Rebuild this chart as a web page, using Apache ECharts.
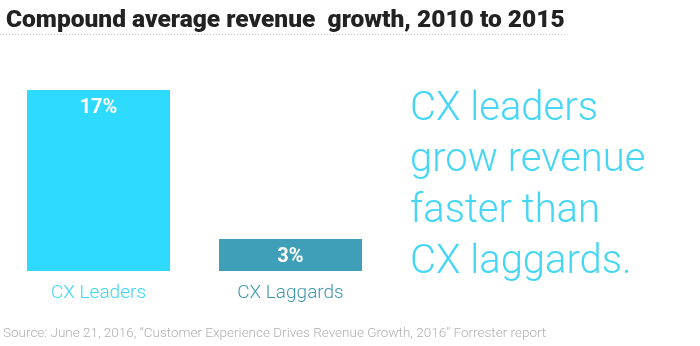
<!DOCTYPE html>
<html><head><meta charset="utf-8">
<script src="https://cdn.jsdelivr.net/npm/echarts@6/dist/echarts.min.js"></script>
<style>html,body{margin:0;padding:0;background:#fff}#c{width:700px;height:346px}</style>
</head><body><div id="c"></div>
<script>
const categories = ['CX Leaders', 'CX Laggards'];
const values = [17, 3];
const valueLabels = ['17%', '3%'];
const barColors = ['#2edbff', '#3f9fb9'];
const labelColors = ['#3cd6f6', '#3d97af'];
const titleText = 'Compound average revenue  growth, 2010 to 2015';
const sideText = 'CX leaders\ngrow revenue\nfaster than\nCX laggards.';
const sourceText = 'Source: June 21, 2016, \u201cCustomer Experience Drives Revenue Growth, 2016\u201d Forrester report';

const chart = echarts.init(document.getElementById('c'));
chart.setOption({
  animation: false,
  title: {
    text: titleText, left: 1, top: 3,
    textStyle: {fontFamily: 'Roboto', fontWeight: 900, fontSize: 24.5, color: '#222'}
  },
  grid: {left: 2.5, width: 384, top: 90, height: 181},
  xAxis: {
    type: 'category', data: categories,
    axisLine: {show: false}, axisTick: {show: false},
    axisLabel: {
      margin: 13, fontFamily: 'Roboto', fontWeight: 300, fontSize: 19,
      color: (v, i) => labelColors[i]
    }
  },
  yAxis: {type: 'value', min: 0, max: 17, show: false, splitLine: {show: false}},
  series: [{
    type: 'bar', barWidth: 143,
    data: values.map((v, i) => ({value: v, itemStyle: {color: barColors[i]}})),
    label: {
      show: true, position: 'insideTop', distance: 8,
      formatter: p => valueLabels[p.dataIndex],
      color: '#fff', fontFamily: 'Roboto', fontWeight: 'bold', fontSize: 20
    }
  }],
  graphic: [
    {type: 'line', shape: {x1: 0, y1: 34.5, x2: 565, y2: 34.5},
     style: {stroke: '#c8c8c8', lineWidth: 1, lineDash: [1, 2]}},
    {type: 'text', left: 410, top: 84,
     style: {text: sideText, fontFamily: 'Roboto', fontWeight: 300, fontSize: 40,
             lineHeight: 51, fill: '#45d6f5'}},
    {type: 'text', left: 3, top: 327,
     style: {text: sourceText, fontFamily: 'Roboto', fontWeight: 300, fontSize: 13.5, fill: '#b0b0b0'}}
  ]
});
</script></body></html>
